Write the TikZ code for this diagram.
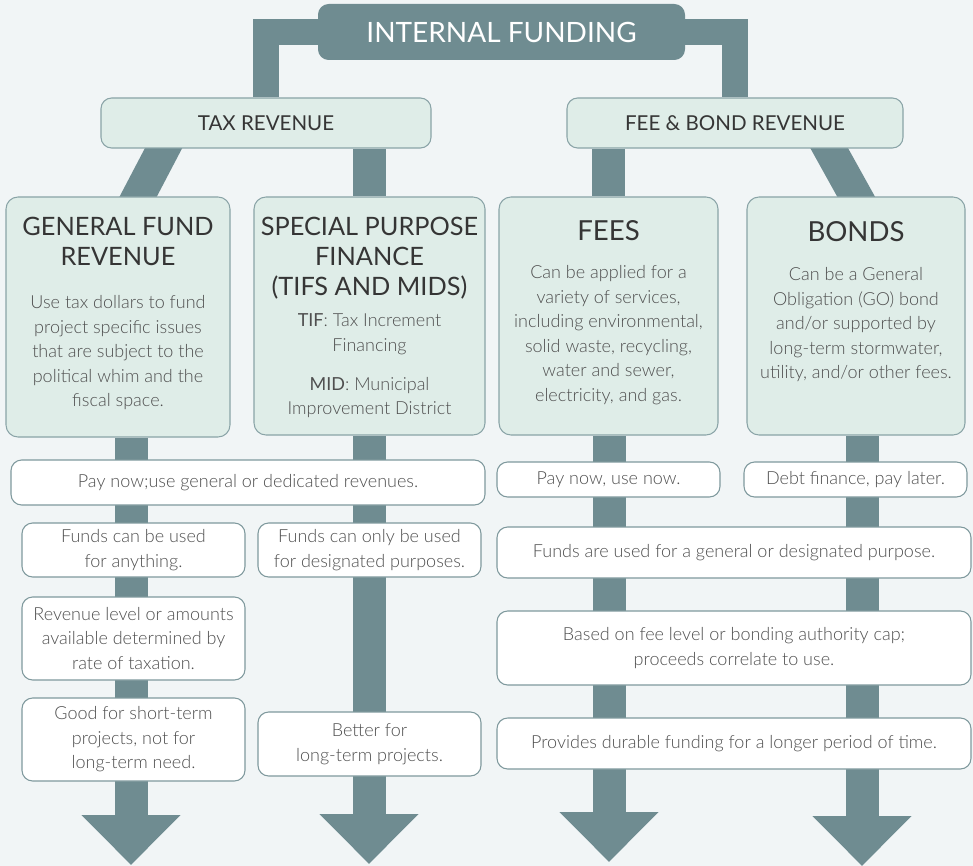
\documentclass[tikz,border=0pt]{standalone}
\usepackage{fontspec}
\setmainfont{Lato Light}
\newfontfamily\ttlfamily{Lato}
\usetikzlibrary{arrows.meta,calc,backgrounds}
\definecolor{bgc}{HTML}{F1F5F6}
\definecolor{barc}{HTML}{6F8C91}
\definecolor{greenfill}{HTML}{DFEDE8}
\definecolor{greenline}{HTML}{8AA4A7}
\definecolor{whiteline}{HTML}{7F999D}
\definecolor{ttltext}{HTML}{353535}
\definecolor{bodytext}{HTML}{4F4F4F}
\newcommand\bodyfs{\fontsize{13.5pt}{18.4pt}\selectfont}
\newcommand\ttlfs{\ttlfamily\fontsize{19pt}{22.5pt}\selectfont}
\newcommand\bigttlfs{\ttlfamily\fontsize{20.7pt}{22.5pt}\selectfont}
\newcommand\hdrfs{\ttlfamily\fontsize{15.4pt}{18pt}\selectfont}
\newcommand\topfs{\ttlfamily\fontsize{21pt}{24pt}\selectfont}
\begin{document}
\begin{tikzpicture}[x=0.75pt,y=-0.75pt,
  wh/.style 2 args={minimum width=#1*0.75pt, minimum height=#2*0.75pt},
  bar/.style={line width=24.75pt, draw=barc},
  thinbar/.style={line width=19.5pt, draw=barc, line join=miter},
  arrowbar/.style={bar, -{Triangle[width=72pt,length=37.5pt]}, fill=barc},
  topbox/.style={fill=barc, rounded corners=8pt, inner sep=0pt, text=white, font=\topfs},
  hdrbox/.style={draw=greenline, fill=greenfill, rounded corners=8pt, line width=0.8pt, inner sep=0pt, text=ttltext, font=\hdrfs},
  greenbox/.style={draw=greenline, fill=greenfill, rounded corners=9pt, line width=0.8pt, inner sep=0pt},
  ttl/.style={inner sep=0pt, align=center, text=ttltext, font=\ttlfs, anchor=north},
  bigttl/.style={ttl, font=\bigttlfs},
  body/.style={inner sep=0pt, align=center, text=bodytext, font=\bodyfs, anchor=north},
  whitebox/.style={draw=whiteline, fill=white, rounded corners=8pt, line width=0.8pt, align=center, inner sep=0pt, font=\bodyfs, text=bodytext}
]
\useasboundingbox (0,0) rectangle (973,866);

% header boxes
\node[topbox, wh={367}{56}] (top) at (501.5,32) {INTERNAL FUNDING};
\node[hdrbox, wh={330}{50}] (tax) at (266,123) {TAX REVENUE};
\node[hdrbox, wh={336}{50}] (feebond) at (735,123) {FEE \& BOND REVENUE};

% category boxes
\node[greenbox, wh={224}{240}] (general) at (118,317) {};
\node[greenbox, wh={231}{238}] (special) at (369.5,316) {};
\node[greenbox, wh={219}{238}] (fees) at (608.5,316) {};
\node[greenbox, wh={218}{238}] (bonds) at (856,316) {};

\node[ttl] (generalT) at ($(general.north)+(0,20)$) {GENERAL FUND\\REVENUE};
\node[body] (generalB) at ($(general.north)+(0,99)$) {Use tax dollars to fund\\project specific issues\\that are subject to the\\political whim and the\\fiscal space.};

\node[ttl] (specialT) at ($(special.north)+(0,20)$) {SPECIAL PURPOSE\\FINANCE\\(TIFS AND MIDS)};
\node[body] (specialB) at ($(special.north)+(0,117)$) {{\ttlfamily TIF}: Tax Increment\\Financing\\[11pt]{\ttlfamily MID}: Municipal\\Improvement District};

\node[bigttl] (feesT) at ($(fees.north)+(0,24)$) {FEES};
\node[body] (feesB) at ($(fees.north)+(0,69)$) {Can be applied for a\\variety of services,\\including environmental,\\solid waste, recycling,\\water and sewer,\\electricity, and gas.};

\node[bigttl] (bondsT) at ($(bonds.north)+(0,25)$) {BONDS};
\node[body] (bondsB) at ($(bonds.north)+(0,71)$) {Can be a General\\Obligation (GO) bond\\and/or supported by\\long-term stormwater,\\utility, and/or other fees.};

% arrow tips
\coordinate (tip1) at (131,865);
\coordinate (tip2) at (369,864);
\coordinate (tip3) at (609,862);
\coordinate (tip4) at (862,866);

% white boxes
\node[whitebox, wh={474}{45}] (pay1) at (248,482.5) {Pay now;use general or dedicated revenues.};
\node[whitebox, wh={223}{35}] (pay2) at (608.5,479.5) {Pay now, use now.};
\node[whitebox, wh={223}{35}] (pay3) at (855.5,479.5) {Debt finance, pay later.};
\node[whitebox, wh={223}{54}] (any) at (133.5,550) {Funds can be used\\for anything.};
\node[whitebox, wh={223}{54}] (desig) at (369.5,550) {Funds can only be used\\for designated purposes.};
\node[whitebox, wh={474}{51}] (genpurp) at (734,552.5) {Funds are used for a general or designated purpose.};
\node[whitebox, wh={223}{83}] (revlvl) at (133.5,638.5) {Revenue level or amounts\\available determined by\\rate of taxation.};
\node[whitebox, wh={474}{74}] (based) at (734,648) {Based on fee level or bonding authority cap;\\proceeds correlate to use.};
\node[whitebox, wh={223}{83}] (good) at (133.5,739.5) {Good for short-term\\projects, not for\\long-term need.};
\node[whitebox, wh={223}{64}] (better) at (369.5,744) {Better for\\long-term projects.};
\node[whitebox, wh={474}{51}] (durable) at (734,743.5) {Provides durable funding for a longer period of time.};

\begin{scope}[on background layer]
  \fill[bgc] (0,0) rectangle (973,866);
  \draw[thinbar] (tax.north) |- (top) -| (feebond.north);
  \draw[bar] (tax.south -| special.north) -- (special.north);
  \draw[bar] (feebond.south -| fees.north) -- (fees.north);
  \draw[bar, shorten <=-8pt, shorten >=-8pt] ($(tax.south west)!0.19!(tax.south east)$) -- ($(general.north west)!0.59!(general.north east)$);
  \draw[bar, shorten <=-8pt, shorten >=-8pt] ($(feebond.south west)!0.78!(feebond.south east)$) -- (bonds.north);
  \draw[arrowbar] (general.south -| tip1) -- (tip1);
  \draw[arrowbar] (special.south -| tip2) -- (tip2);
  \draw[arrowbar] (fees.south -| tip3) -- (tip3);
  \draw[arrowbar] (bonds.south -| tip4) -- (tip4);
\end{scope}
\end{tikzpicture}
\end{document}
